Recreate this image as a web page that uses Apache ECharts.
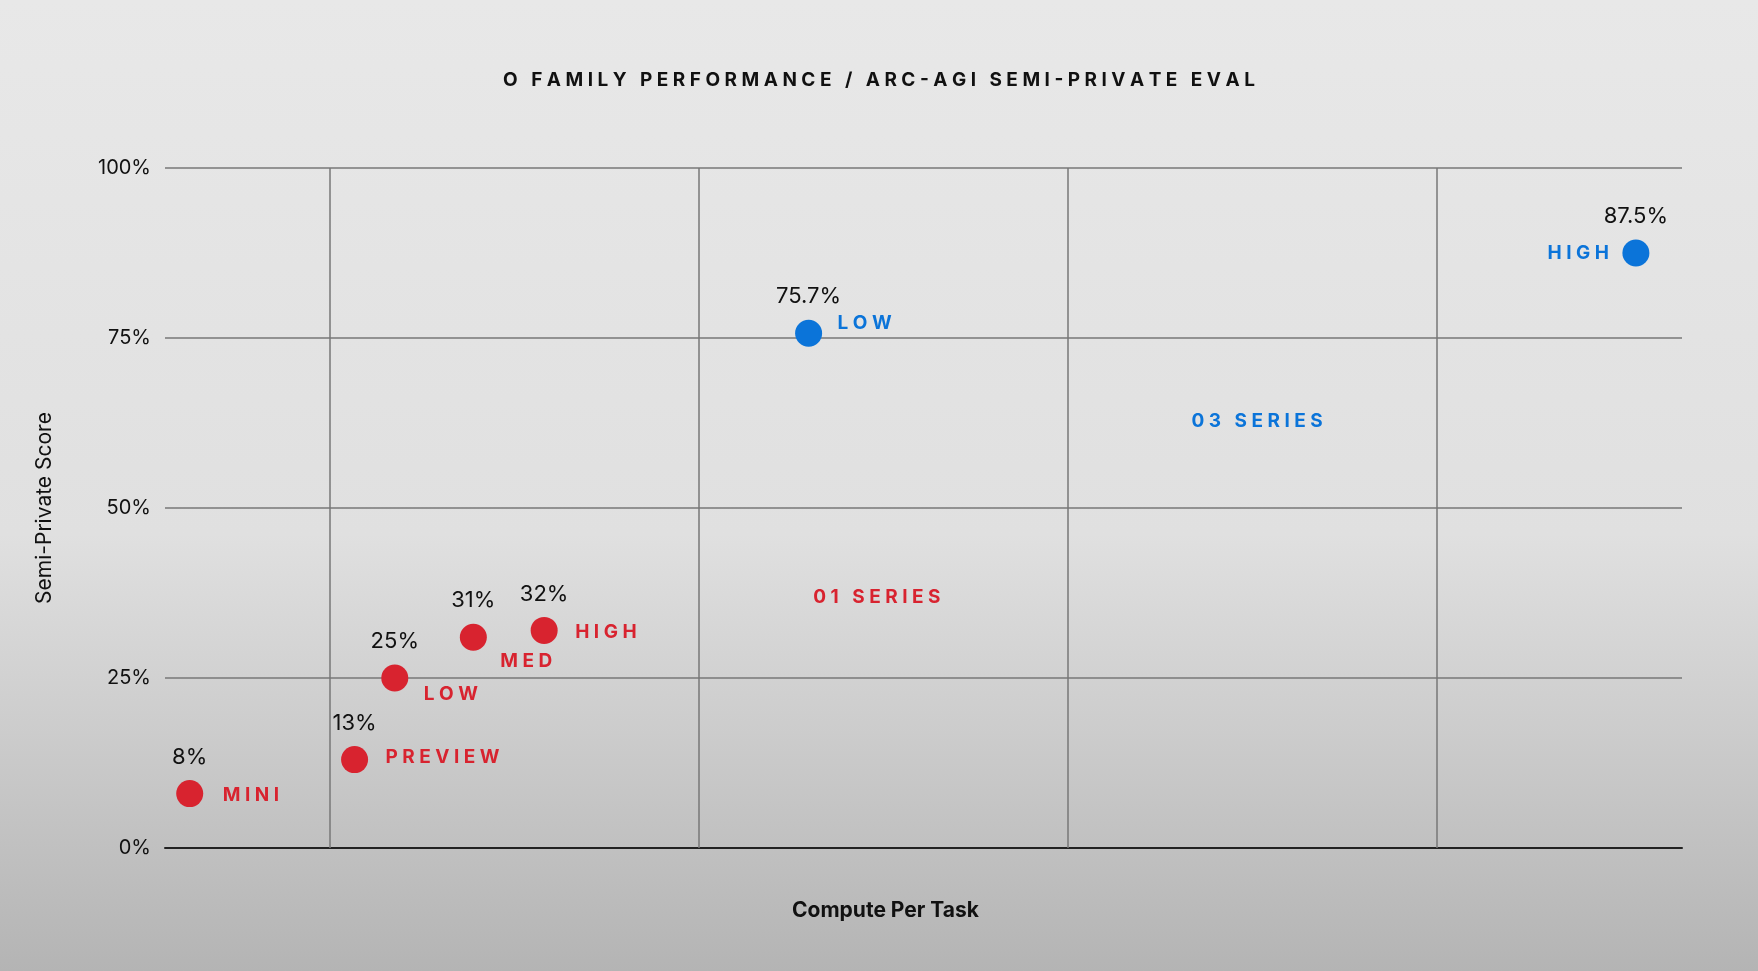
<!DOCTYPE html>
<html><head><meta charset="utf-8">
<script src="https://cdn.jsdelivr.net/npm/echarts@6/dist/echarts.min.js"></script>
<style>html,body{margin:0;padding:0;width:1758px;height:971px;background:linear-gradient(#e8e8e8 0%,#e0e0e0 55%,#b4b4b4 100%);}#c{width:1758px;height:971px;}</style>
</head><body><div id="c"></div>
<script>
const sp = s => s.split('').join('\u2009\u200a');
const o1Names = ['MINI','PREVIEW','LOW','MED','HIGH'];
const o1X = [0.62, 1.067, 1.176, 1.389, 1.581];
const o1Y = [8, 13, 25, 31, 32];
const o1Labels = ['8%','13%','25%','31%','32%'];
const o3Names = ['LOW','HIGH'];
const o3X = [2.298, 4.541];
const o3Y = [75.7, 87.5];
const o3Labels = ['75.7%','87.5%'];
const vLines = [1,2,3,4];
const RED = '#d8232f', BLUE = '#0b74d9';
const namePos = {MINI:[28,2],PREVIEW:[26,-2],LOW:[24,16],MED:[22,24],HIGH:[26,2]};
function valSeries(xs, ys, labels, color){
  return {type:'scatter', symbolSize:27, itemStyle:{color:color, opacity:1},
    data: xs.map((x,i)=>({value:[x,ys[i]], lbl:labels[i]})),
    label:{show:true, position:'top', distance:12, color:'#111', fontSize:22, fontFamily:'Inter',
      formatter:p=>p.data.lbl}};
}
const chart = echarts.init(document.getElementById('c'));
chart.setOption({
  backgroundColor:'transparent',
  title:{text:sp('O FAMILY PERFORMANCE / ARC-AGI SEMI-PRIVATE EVAL'), left:'center', top:66,
    textStyle:{fontSize:19, fontWeight:'bold', color:'#111', fontFamily:'Inter'}},
  graphic:[{type:'text', left:877-85, top:900, style:{text:'Compute Per Task', fontSize:21, fontWeight:'bold', fill:'#111', fontFamily:'Inter'}}],
  grid:{left:165, right:76, top:168, bottom:123},
  xAxis:{type:'value', min:0.553, max:4.666, axisLabel:{show:false}, axisTick:{show:false},
    splitLine:{show:false}, axisLine:{lineStyle:{color:'#222', width:2}}},
  yAxis:{type:'value', min:0, max:100, interval:25, axisLine:{show:false}, axisTick:{show:false},
    axisLabel:{formatter:'{value}%', fontSize:20, color:'#111', fontFamily:'Inter', margin:14},
    splitLine:{lineStyle:{color:'#777', width:1.5}},
    name:'Semi-Private Score', nameLocation:'middle', nameGap:110,
    nameTextStyle:{fontSize:21, color:'#111', fontFamily:'Inter'}},
  series:[
    Object.assign(valSeries(o1X,o1Y,o1Labels,RED), {
      markLine:{silent:true, symbol:'none', label:{show:false},
        lineStyle:{color:'#777', width:1.5, type:'solid'},
        data: vLines.map(v=>({xAxis:v}))}}),
    valSeries(o3X,o3Y,o3Labels,BLUE),
    {type:'scatter', symbolSize:0, silent:true, itemStyle:{opacity:1},
      data:o1X.map((x,i)=>({value:[x,o1Y[i]], nm:o1Names[i],
        label:{offset:namePos[o1Names[i]]}})),
      label:{show:true, position:'right', color:RED, fontSize:19, fontWeight:'bold', fontFamily:'Inter',
        formatter:p=>sp(p.data.nm)}},
    {type:'scatter', symbolSize:0, silent:true, itemStyle:{opacity:1},
      data:[{value:[o3X[0],o3Y[0]], nm:o3Names[0], label:{position:'right', offset:[24,-10]}},
            {value:[o3X[1],o3Y[1]], nm:o3Names[1], label:{position:'left', offset:[-22,0]}}],
      label:{show:true, color:BLUE, fontSize:19, fontWeight:'bold', fontFamily:'Inter',
        formatter:p=>sp(p.data.nm)}},
    {type:'scatter', symbolSize:0, silent:true, itemStyle:{opacity:1},
      data:[{value:[2.483,36.8], nm:'01 SERIES', label:{color:RED}},
            {value:[3.514,62.7], nm:'03 SERIES', label:{color:BLUE}}],
      label:{show:true, position:'inside', fontSize:19, fontWeight:'bold', fontFamily:'Inter',
        formatter:p=>sp(p.data.nm)}}
  ]
});
</script></body></html>
